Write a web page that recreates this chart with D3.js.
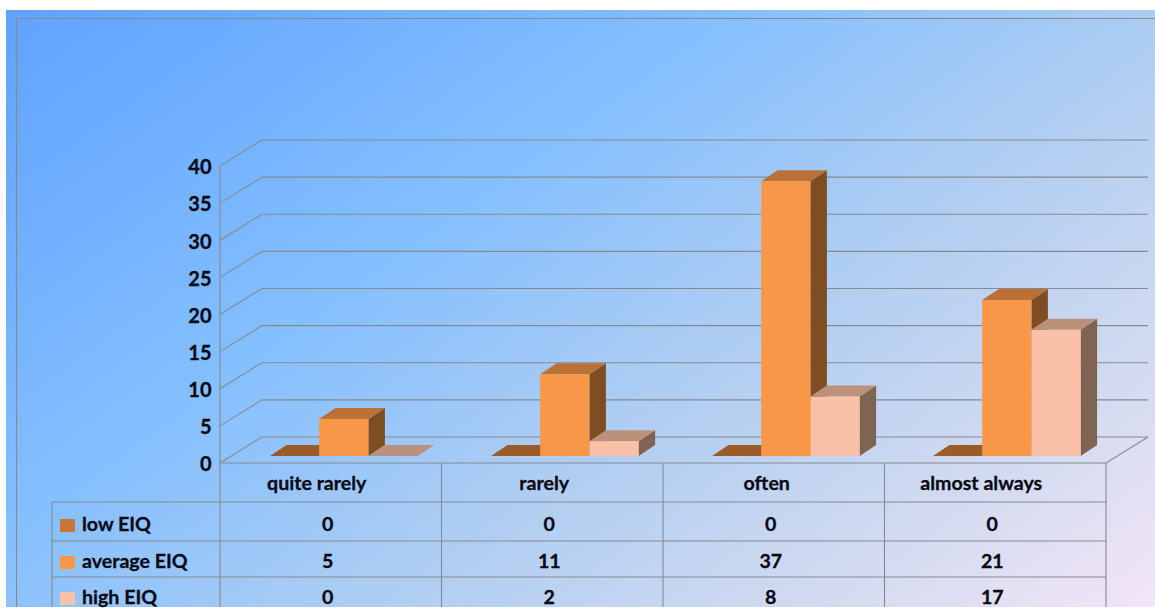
<!DOCTYPE html>
<html><head><meta charset="utf-8">
<script src="https://cdn.jsdelivr.net/npm/d3@7"></script>
<style>html,body{margin:0;padding:0;background:#fff;overflow:hidden}svg{display:block}text{font-family:Lato,"Noto Sans",sans-serif;font-weight:700;fill:#0a0a14;stroke:#0a0a14;stroke-width:.3px}</style>
</head><body><svg id="c" width="1155" height="608"></svg>
<script>
const categories = ["quite rarely","rarely","often","almost always"];
const seriesNames = ["low EIQ","average EIQ","high EIQ"];
const lowEIQ = [0,0,0,0];
const averageEIQ = [5,11,37,21];
const highEIQ = [0,2,8,17];
const seriesValues = [lowEIQ,averageEIQ,highEIQ];
const yTicks = [0,5,10,15,20,25,30,35,40];
const frontColors = ["#c8763a","#f99748","#fac1a8"];
const topColors = ["#9c5c2a","#bb7035","#bc917b"];
const sideColors = ["#7e4e22","#7e4e22","#7f6353"];

const lineCol = "#868a90";
const svg = d3.select("#c");
const defs = svg.append("defs");
const g = defs.append("linearGradient").attr("id","bg").attr("gradientUnits","userSpaceOnUse")
  .attr("x1",180).attr("y1",-300).attr("x2",975).attr("y2",800);
[[0,"#5a9dff"],[0.13,"#62a4ff"],[0.42,"#84bfff"],[0.62,"#aecdf2"],[0.82,"#d4dbf0"],[1,"#fbe8f8"]]
  .forEach(d=>g.append("stop").attr("offset",d[0]).attr("stop-color",d[1]));
svg.append("rect").attr("x",6).attr("y",10).attr("width",1149).attr("height",597).attr("fill","url(#bg)");
svg.append("path").attr("d","M16.5,607V18.5H1155").attr("fill","none").attr("stroke",lineCol).attr("stroke-width",1.2);

const depthX = 42, depthY = 26;
const y = d3.scaleLinear().domain([0,40]).range([463,166]);
const x0 = d3.scaleBand().domain(categories).range([220,1106]);
const xBars = d3.scaleBand().domain(categories).range([220,1104]);
const x1 = d3.scaleBand().domain(seriesNames).range([50,197.6]);

const grid = svg.append("g").attr("fill","none").attr("stroke",lineCol).attr("stroke-width",1.1);
yTicks.forEach(t=>{
  grid.append("path").attr("d",`M220,${y(t)}L${220+depthX},${y(t)-depthY}H1148`);
});
grid.append("path").attr("d",`M220,${y(40)}V607`);
grid.append("path").attr("d",`M220,${y(0)}H1106L1148,${y(0)-depthY}`);

const axis = d3.axisLeft(y).tickValues(yTicks).tickSize(0).tickPadding(0);
const ag = svg.append("g").attr("transform","translate(211.5,1)").call(axis);
ag.select(".domain").remove();
ag.selectAll("text").attr("font-size",20).style("font-family","Lato").style("font-weight",700).attr("fill","#0a0a14").attr("dy","0.34em");

const baseY = 456, barDx = 16.5, barDy = 11;
const yBar = v => baseY-(y(0)-y(v));
const bars = svg.append("g");
categories.forEach((c,ci)=>{
  seriesNames.forEach((s,si)=>{
    const v = seriesValues[si][ci];
    const xl = xBars(c)+x1(s), w = x1.bandwidth(), top = yBar(v);
    const b = bars.append("g");
    b.append("path").attr("d",`M${xl+w},${baseY}L${xl+w+barDx},${baseY-barDy}V${top-barDy}L${xl+w},${top}Z`).attr("fill",sideColors[si]);
    b.append("path").attr("d",`M${xl},${top}L${xl+barDx},${top-barDy}H${xl+w+barDx}L${xl+w},${top}Z`).attr("fill",topColors[si]);
    if(v>0) b.append("rect").attr("x",xl).attr("y",top).attr("width",w).attr("height",baseY-top).attr("fill",frontColors[si]);
  });
});

// data table
const rowLines = [502,541,577];
const rowText = [524,561,597];
const t = svg.append("g").attr("fill","none").attr("stroke",lineCol).attr("stroke-width",1.1);
rowLines.forEach(r=>t.append("path").attr("d",`M52,${r}H1106`));
t.append("path").attr("d","M52,502V607");
x0.domain().forEach(c=>t.append("path").attr("d",`M${x0(c)+x0.bandwidth()},463V607`));

const labelNudge = [-14,-8,-7,-14];
const lab = svg.append("g").attr("font-size",19.6);
categories.forEach((c,ci)=>{
  lab.append("text").attr("x",x0(c)+x0.bandwidth()/2+labelNudge[ci]).attr("y",483).attr("dy","0.34em").attr("text-anchor","middle").text(c);
});
seriesNames.forEach((s,si)=>{
  svg.append("rect").attr("x",60).attr("y",rowText[si]-5).attr("width",15).attr("height",13).attr("fill",frontColors[si]);
  lab.append("text").attr("x",82).attr("y",rowText[si]).attr("dy","0.34em").text(s);
  categories.forEach((c,ci)=>{
    lab.append("text").attr("x",x0(c)+x0.bandwidth()/2-3).attr("y",rowText[si]).attr("dy","0.34em").attr("text-anchor","middle").text(seriesValues[si][ci]);
  });
});
</script></body></html>
